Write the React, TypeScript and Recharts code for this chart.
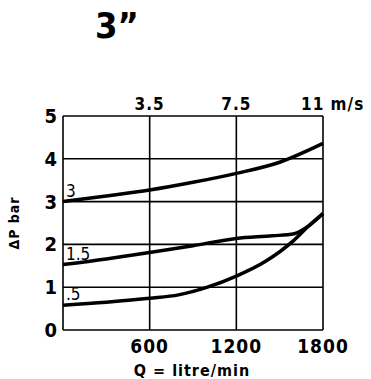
import { LineChart, Line, XAxis, YAxis, CartesianGrid } from 'recharts'

const FONT = '"Liberation Sans Narrow", "DejaVu Sans Condensed", "Roboto Condensed", sans-serif'

// flow Q (litre/min) → pressure drop ΔP (bar)
const curve3 = [
  { q: 0, dp: 3.0 },
  { q: 300, dp: 3.13 },
  { q: 600, dp: 3.27 },
  { q: 900, dp: 3.45 },
  { q: 1200, dp: 3.66 },
  { q: 1500, dp: 3.92 },
  { q: 1800, dp: 4.36 },
]
const curve15 = [
  { q: 0, dp: 1.53 },
  { q: 300, dp: 1.66 },
  { q: 600, dp: 1.81 },
  { q: 900, dp: 1.97 },
  { q: 1200, dp: 2.14 },
  { q: 1450, dp: 2.2 },
  { q: 1600, dp: 2.25 },
  { q: 1700, dp: 2.43 },
  { q: 1800, dp: 2.72 },
]
const curve05 = [
  { q: 0, dp: 0.58 },
  { q: 300, dp: 0.65 },
  { q: 600, dp: 0.74 },
  { q: 800, dp: 0.82 },
  { q: 1000, dp: 1.0 },
  { q: 1200, dp: 1.26 },
  { q: 1400, dp: 1.6 },
  { q: 1600, dp: 2.1 },
  { q: 1700, dp: 2.43 },
  { q: 1800, dp: 2.72 },
]

const qTicks = [0, 600, 1200, 1800]
const speedLabels: Record<number, string> = { 600: '3.5', 1200: '7.5', 1800: '11 m/s' }
const dpTicks = [0, 1, 2, 3, 4, 5]

const firstLabel = (text: string) => (props: any) => {
  if (props.index !== 0) return null
  return (
    <text x={props.x + 3} y={props.y - 5} fontFamily={FONT} fontSize={17} fill="#000">
      {text}
    </text>
  )
}

const BottomTick = (props: any) => {
  const { x, y, payload } = props
  if (payload.value === 0) return null
  return (
    <text x={x} y={y + 15} textAnchor="middle" fontFamily={FONT} fontWeight="bold" fontSize={19} letterSpacing={1} fill="#000">
      {payload.value}
    </text>
  )
}

const TopTick = (props: any) => {
  const { x, payload } = props
  const label = speedLabels[payload.value]
  if (!label) return null
  const last = payload.value === 1800
  return (
    <text x={last ? x - 22 : x} y={110} textAnchor={last ? 'start' : 'middle'} fontFamily={FONT} fontWeight="bold" fontSize={17} letterSpacing={1} fill="#000">
      {label}
    </text>
  )
}

const LeftTick = (props: any) => {
  const { x, y, payload } = props
  return (
    <text x={x + 2} y={y + 7} textAnchor="end" fontFamily={FONT} fontWeight="bold" fontSize={20} fill="#000">
      {payload.value}
    </text>
  )
}

export default function App() {
  return (
    <div style={{ position: 'absolute', left: 0, top: 0, width: 371, height: 379, background: '#fff' }}>
      <LineChart width={371} height={379} margin={{ top: 86, right: 48, bottom: 0, left: 0 }}>
        <CartesianGrid xAxisId="bottom" stroke="#000" strokeWidth={1.6} horizontalValues={dpTicks} verticalValues={qTicks} />
        <XAxis xAxisId="bottom" dataKey="q" type="number" domain={[0, 1800]} ticks={qTicks} axisLine={false} tickLine={false} tick={<BottomTick />} height={49} />
        <XAxis xAxisId="top" orientation="top" dataKey="q" type="number" domain={[0, 1800]} ticks={qTicks} axisLine={false} tickLine={false} tick={<TopTick />} height={30} />
        <YAxis type="number" domain={[0, 5]} ticks={dpTicks} axisLine={false} tickLine={false} tick={<LeftTick />} width={63} />
        <Line xAxisId="top" data={curve3} dataKey="dp" type="monotone" stroke="#000" strokeWidth={3.5} dot={false} isAnimationActive={false} label={firstLabel('3')} />
        <Line xAxisId="bottom" data={curve15} dataKey="dp" type="monotone" stroke="#000" strokeWidth={3.5} dot={false} isAnimationActive={false} label={firstLabel('1.5')} />
        <Line xAxisId="bottom" data={curve05} dataKey="dp" type="monotone" stroke="#000" strokeWidth={3.5} dot={false} isAnimationActive={false} label={firstLabel('.5')} />
        <text x={117} y={38} textAnchor="middle" fontFamily={FONT} fontWeight="bold" fontSize={36} fill="#000">
          3”
        </text>
        <text x={192} y={376} textAnchor="middle" fontFamily={FONT} fontWeight="bold" fontSize={16} letterSpacing={1} fill="#000">
          Q = litre/min
        </text>
        <text x={0} y={0} transform="translate(19 223) rotate(-90)" textAnchor="middle" fontFamily={FONT} fontWeight="bold" fontSize={14} letterSpacing={1} fill="#000">
          ΔP bar
        </text>
      </LineChart>
    </div>
  )
}
